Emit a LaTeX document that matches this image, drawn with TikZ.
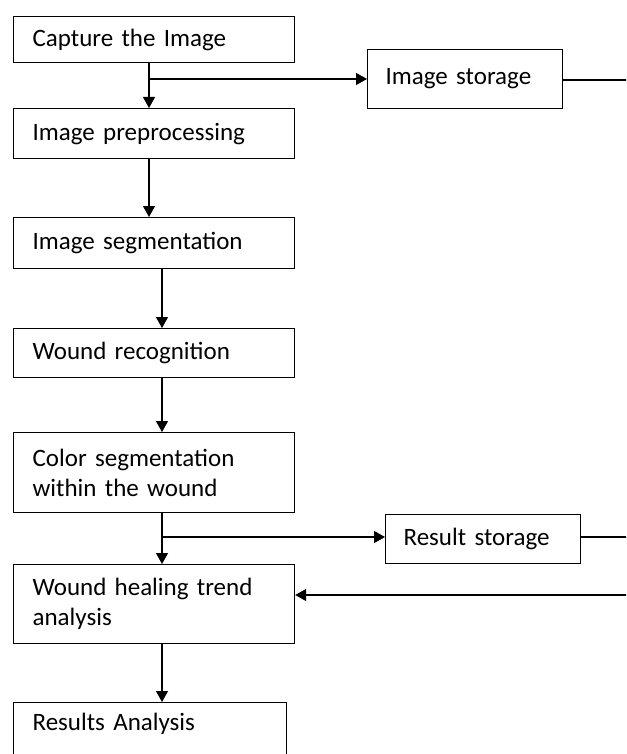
\documentclass[tikz,border=0pt]{standalone}
\usepackage{fontspec}
\setmainfont[WordSpace=0.75]{Carlito}
\usetikzlibrary{arrows.meta}

\begin{document}
\begin{tikzpicture}[x=1pt, y=-1pt]
        \tikzstyle{stage}=[draw, line width=1.2pt, rectangle, anchor=north west, align=left, inner xsep=19pt, inner ysep=2pt, text width=243pt, font=\fontsize{25}{30}\selectfont]
        \tikzstyle{store}=[stage, inner xsep=18pt, text width=159pt]
        \tikzstyle{flow}=[line width=1.2pt, -{Triangle[width=12pt, length=11pt]}]
        \tikzstyle{link}=[line width=1.2pt]
        \clip (0,0) rectangle (626,754);
        \fill[white] (0,0) rectangle (626,754);
        % main chain
        \node[stage, minimum height=46pt] (cap) at (13,16) {Capture the Image};
        \node[stage, minimum height=50pt] (prep) at (13,108) {Image preprocessing};
        \node[stage, minimum height=51pt] (seg) at (13,217) {Image segmentation};
        \node[stage, minimum height=49pt] (recog) at (13,328) {Wound recognition};
        \node[stage, minimum height=80pt] (color) at (13,432) {Color segmentation\\within the wound};
        \node[stage, minimum height=79pt] (trend) at (13,564) {Wound healing trend\\analysis};
        \node[stage, text width=235pt, inner ysep=4pt, text height=24pt, text depth=40pt] (res) at (13,702) {Results Analysis};
        % storage side
        \node[store, minimum height=59pt] (imgst) at (367,49) {Image storage};
        \node[store, minimum height=49pt] (resst) at (385,514) {Result storage};
        \coordinate (j1) at (149,79);
        \coordinate (j2) at (162,537);
        \coordinate (out1) at (630,80);
        \coordinate (out2) at (630,537);
        \coordinate (in3) at (630,595);
        \draw[flow] (cap.south -| j1) -- (prep.north -| j1);
        \draw[flow] (prep.south -| j1) -- (seg.north -| j1);
        \draw[flow] (seg.south -| j2) -- (recog.north -| j2);
        \draw[flow] (recog.south -| j2) -- (color.north -| j2);
        \draw[flow] (color.south -| j2) -- (trend.north -| j2);
        \draw[flow] (trend.south -| j2) -- (res.north -| j2);
        \draw[flow] (j1) -- (imgst.west |- j1);
        \draw[flow] (j2) -- (resst.west |- j2);
        \draw[link] (imgst.east |- out1) -- (out1);
        \draw[link] (resst.east |- out2) -- (out2);
        \draw[flow] (in3) -- (trend.east |- in3);
\end{tikzpicture}
\end{document}
